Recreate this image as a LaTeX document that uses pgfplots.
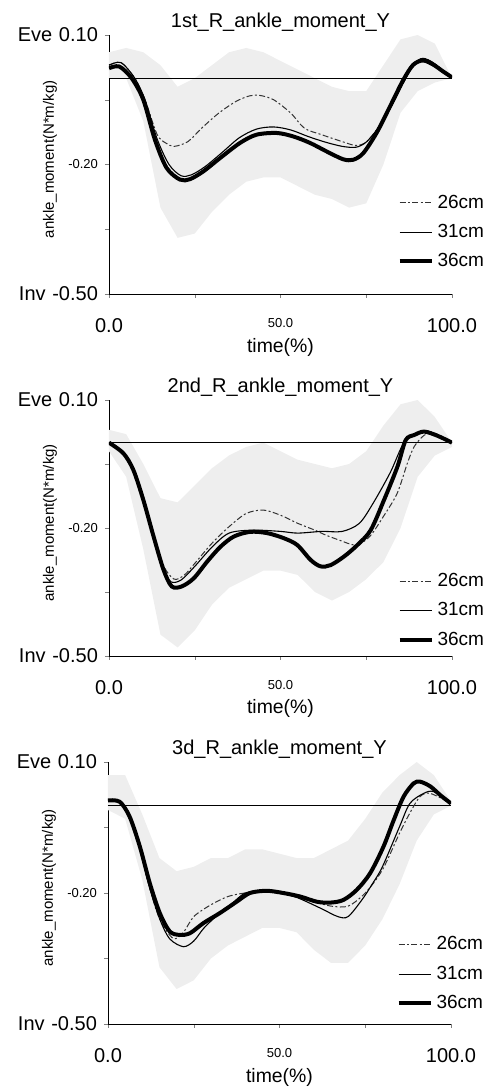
\documentclass[border=0pt]{standalone}
\usepackage{fontspec}
\setmainfont{Liberation Sans}
\usepackage{pgfplots}
\pgfplotsset{compat=1.18}
\pgfplotsset{
  panel/.style={
    scale only axis, width=171.5pt,
    xmin=0, xmax=100, ymin=-0.5, ymax=0.1,
    axis lines=left, axis line style={-, thin},
    tick align=outside, major tick length=2pt,
    xtick={0,25,50,75,100},
    xticklabels={0.0,,{\raisebox{3pt}{\fontsize{6.5}{7}\selectfont 50.0}},,100.0},
    ytick={-0.5,-0.35,-0.2,-0.05,0.1},
    yticklabels={{Inv\,\,-0.50},,{\fontsize{6.5}{7}\selectfont -0.20},,{Eve\,\,0.10}},
    tick label style={font=\fontsize{10}{12}\selectfont},
    xticklabel style={yshift=-6.5pt},
    title style={font=\fontsize{10}{12}\selectfont, yshift=-8pt},
    xlabel={time(\%)},
    xlabel style={font=\fontsize{9.7}{11}\selectfont, at={(axis description cs:0.5,-0.205)}, anchor=center},
    ylabel={ankle\_moment(N*m/kg)},
    ylabel style={font=\fontsize{7.5}{9}\selectfont, at={(axis description cs:-0.172,0.52)}, anchor=center, rotate=0},
    legend style={at={(rel axis cs:0.84,0.40)}, anchor=north west, draw=none, fill=none,
      font=\fontsize{9.5}{11}\selectfont, row sep=2.5pt, inner sep=0pt},
    legend cell align=left,
    legend image code/.code={\draw[##1] (0pt,0pt) -- (16pt,0pt);},
  },
  band/.style={fill=gray!13, draw=none, forget plot},
  zline/.style={black, line width=0.5pt, forget plot},
  s26/.style={black!80, line width=0.5pt, dash pattern=on 3pt off 1.2pt on 1pt off 1.2pt, smooth},
  s31/.style={black, line width=0.55pt, smooth},
  s36/.style={black, line width=2pt, smooth},
}
\begin{document}
\begin{tikzpicture}
\path[use as bounding box] (0,0) rectangle (243pt,545.5pt);

% ---------- Panel 1 ----------
\begin{axis}[panel, height=129.5pt, at={(54.5pt,398.5pt)}, anchor=south west,
  title={1st\_R\_ankle\_moment\_Y}]
\addplot[band] coordinates {(0,0.06)(5,0.07)(10,0.06)(15,0.03)(20,-0.02)(25,0.0)(30,0.03)(35,0.06)(40,0.07)(45,0.06)(50,0.04)(55,0.02)(60,0.0)(65,-0.02)(70,-0.03)(75,-0.03)(80,0.03)(85,0.09)(90,0.1)(95,0.08)(100,0.0)
 (100,0.0)(95,-0.01)(90,-0.03)(85,-0.08)(80,-0.2)(75,-0.29)(70,-0.3)(65,-0.28)(60,-0.27)(55,-0.25)(50,-0.23)(45,-0.23)(40,-0.24)(35,-0.27)(30,-0.31)(25,-0.36)(20,-0.37)(15,-0.3)(10,-0.1)(5,0.0)(0,0.0)} -- cycle;
\addplot[zline] coordinates {(0,0)(100,0)};
\addplot[s26] coordinates {(0,0.03)(3.5,0.036)(7.5,0.0)(10.5,-0.05)(14,-0.13)(16.5,-0.15)(19,-0.158)(23,-0.147)(27,-0.116)(32,-0.081)(37,-0.054)(41,-0.041)(44,-0.04)(48,-0.05)(53,-0.081)(57,-0.116)(62,-0.131)(68,-0.147)(72,-0.156)(75,-0.148)(78,-0.12)(82,-0.07)(86,-0.008)(89,0.033)(91.5,0.046)(94.5,0.036)(97.5,0.017)(100,0.002)};
\addlegendentry{26cm}
\addplot[s31] coordinates {(0,0.03)(3.5,0.036)(7.5,0.0)(10.5,-0.05)(14,-0.14)(17.5,-0.2)(21,-0.226)(24,-0.224)(28,-0.205)(33,-0.172)(38,-0.138)(43,-0.118)(48,-0.113)(53,-0.12)(58,-0.135)(63,-0.148)(68,-0.158)(72,-0.16)(75,-0.148)(78.5,-0.115)(82,-0.07)(86,-0.008)(89,0.033)(91.5,0.046)(94.5,0.036)(97.5,0.017)(100,0.002)};
\addlegendentry{31cm}
\addplot[s36] coordinates {(0,0.023)(3,0.027)(6.6,0.0)(10,-0.05)(13.4,-0.143)(16.8,-0.208)(20.7,-0.235)(23.6,-0.234)(27.5,-0.216)(32.4,-0.185)(38.2,-0.15)(43,-0.131)(48.9,-0.127)(53.7,-0.135)(58.6,-0.15)(63.5,-0.17)(68.3,-0.188)(71.2,-0.189)(74.1,-0.174)(78,-0.127)(81.9,-0.066)(85.8,-0.004)(88.7,0.031)(91.6,0.041)(94.6,0.031)(97.5,0.015)(100,0.002)};
\addlegendentry{36cm}
\end{axis}

% ---------- Panel 2 ----------
\begin{axis}[panel, height=128pt, at={(54.5pt,217.5pt)}, anchor=south west,
  title={2nd\_R\_ankle\_moment\_Y},
  legend style={at={(rel axis cs:0.84,0.34)}}]
\addplot[band] coordinates {(0,0.03)(5,0.02)(10,-0.05)(15,-0.13)(20,-0.14)(25,-0.1)(30,-0.06)(35,-0.03)(40,-0.01)(45,0.0)(50,-0.02)(55,-0.04)(60,-0.05)(65,-0.06)(70,-0.05)(75,-0.02)(80,0.04)(85,0.09)(90,0.1)(95,0.06)(100,0.0)
 (100,-0.01)(95,-0.03)(90,-0.08)(85,-0.2)(80,-0.28)(75,-0.32)(70,-0.35)(65,-0.37)(60,-0.35)(55,-0.31)(50,-0.3)(45,-0.3)(40,-0.32)(35,-0.34)(30,-0.38)(25,-0.44)(20,-0.48)(15,-0.45)(10,-0.25)(5,-0.08)(0,-0.02)} -- cycle;
\addplot[zline] coordinates {(0,0)(100,0)};
\addplot[s26] coordinates {(0,0.0)(4.2,-0.025)(7.1,-0.064)(10,-0.134)(13,-0.22)(16,-0.29)(19,-0.32)(22,-0.31)(25,-0.283)(30,-0.236)(35,-0.197)(40,-0.166)(45,-0.158)(50,-0.17)(55,-0.189)(60,-0.205)(63,-0.216)(67,-0.228)(72,-0.24)(76,-0.22)(80,-0.173)(84,-0.119)(87,-0.048)(89,-0.009)(92,0.018)(95,0.022)(100,0.0)};
\addlegendentry{26cm}
\addplot[s31] coordinates {(0,0.0)(4.2,-0.025)(7.1,-0.064)(10,-0.134)(13,-0.22)(15.9,-0.295)(18,-0.326)(21,-0.322)(25,-0.29)(30,-0.245)(35,-0.212)(42,-0.205)(50,-0.208)(55,-0.212)(62,-0.208)(68,-0.208)(73,-0.189)(77,-0.142)(82,-0.07)(86,0.0)(90,0.022)(93,0.027)(96,0.016)(100,0.0)};
\addlegendentry{31cm}
\addplot[s36] coordinates {(0,0.0)(4.2,-0.025)(7.1,-0.064)(10,-0.134)(13,-0.22)(15.9,-0.298)(18.3,-0.337)(21.2,-0.337)(24.7,-0.318)(28.6,-0.279)(32.5,-0.244)(36.4,-0.22)(41.2,-0.209)(46.1,-0.212)(51,-0.224)(54.9,-0.24)(58.8,-0.275)(61.7,-0.29)(64.6,-0.287)(68.5,-0.267)(72.4,-0.24)(76.3,-0.205)(80.2,-0.134)(84.1,-0.056)(86.5,0.006)(89,0.018)(91.9,0.026)(95.8,0.016)(100,0.0)};
\addlegendentry{36cm}
\end{axis}

% ---------- Panel 3 ----------
\begin{axis}[panel, height=131pt, at={(54pt,33.5pt)}, anchor=south west,
  title={3d\_R\_ankle\_moment\_Y},
  legend style={at={(rel axis cs:0.84,0.35)}}]
\addplot[band] coordinates {(0,0.07)(5,0.07)(10,-0.02)(15,-0.12)(20,-0.15)(25,-0.14)(30,-0.12)(35,-0.12)(40,-0.1)(45,-0.1)(50,-0.11)(55,-0.12)(60,-0.12)(65,-0.1)(70,-0.08)(75,-0.03)(80,0.03)(85,0.07)(90,0.1)(95,0.07)(100,0.01)
 (100,0.0)(95,-0.02)(90,-0.08)(85,-0.18)(80,-0.26)(75,-0.32)(70,-0.36)(65,-0.36)(60,-0.33)(55,-0.29)(50,-0.28)(45,-0.28)(40,-0.3)(35,-0.32)(30,-0.35)(25,-0.4)(20,-0.42)(15,-0.37)(10,-0.17)(5,-0.03)(0,-0.01)} -- cycle;
\addplot[zline] coordinates {(0,0)(100,0)};
\addplot[s26] coordinates {(0,0.012)(3.4,0.009)(6.3,-0.03)(9.3,-0.1)(12.2,-0.19)(15.1,-0.26)(19,-0.304)(22,-0.29)(25,-0.254)(30,-0.227)(35,-0.208)(40,-0.2)(45,-0.198)(50,-0.2)(55,-0.21)(60,-0.22)(65,-0.23)(70,-0.23)(75,-0.2)(80,-0.147)(85,-0.063)(88,-0.017)(91,0.021)(94,0.028)(100,0.005)};
\addlegendentry{26cm}
\addplot[s31] coordinates {(0,0.012)(3.4,0.009)(6.3,-0.03)(9.3,-0.1)(12.2,-0.19)(15.1,-0.26)(18,-0.305)(22,-0.323)(25,-0.31)(28,-0.28)(32,-0.25)(36,-0.225)(40,-0.2)(45,-0.195)(50,-0.2)(55,-0.21)(62,-0.235)(67,-0.254)(70,-0.254)(74,-0.216)(77,-0.18)(80,-0.14)(85,-0.048)(88,0.005)(92,0.028)(95,0.032)(100,0.005)};
\addlegendentry{31cm}
\addplot[s36] coordinates {(0,0.012)(3.4,0.009)(6.3,-0.025)(9.3,-0.094)(12.2,-0.178)(15.1,-0.246)(18,-0.288)(20.9,-0.296)(23.9,-0.292)(27.8,-0.269)(32.6,-0.246)(37.5,-0.22)(41.4,-0.2)(46.3,-0.195)(51.1,-0.2)(56,-0.208)(60.9,-0.22)(64.8,-0.222)(68.6,-0.216)(72.5,-0.193)(76.4,-0.155)(80.3,-0.094)(83.3,-0.033)(86.2,0.021)(89.1,0.051)(91,0.055)(94,0.044)(96.9,0.024)(100,0.005)};
\addlegendentry{36cm}
\end{axis}
\end{tikzpicture}
\end{document}
